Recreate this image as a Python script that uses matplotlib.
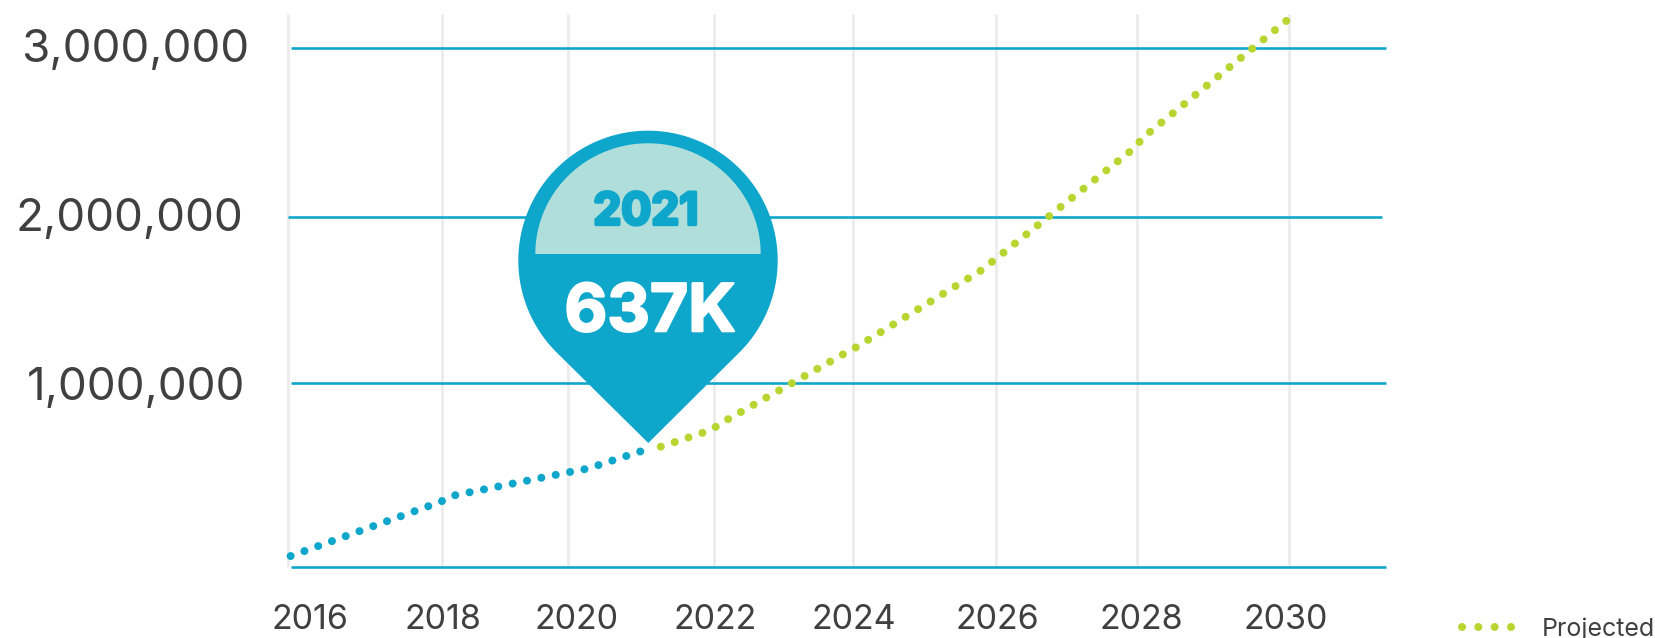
import numpy as np
import matplotlib
matplotlib.use("Agg")
import matplotlib.pyplot as plt
import matplotlib.patheffects as pe
from matplotlib.lines import Line2D
from matplotlib.patches import Polygon
from matplotlib.transforms import ScaledTranslation

plt.rcParams['font.family'] = ['Inter', 'DejaVu Sans']

years = [2016, 2018, 2020, 2022, 2024, 2026, 2028, 2030]
levels = [0, 1000000, 2000000, 3000000]
level_labels = ['', '1,000,000', '2,000,000', '3,000,000']

hist_year = [2016.03, 2017.98, 2018.14, 2020.08, 2020.27, 2021.10]
hist_val = [58000, 354000, 385000, 520000, 534000, 642000]

proj_year = [2021.27, 2021.95, 2022.12, 2023.84, 2024.02, 2025.79, 2025.93, 2027.98, 2028.07, 2029.99]
proj_val = [654000, 744000, 787000, 1169000, 1209000, 1678000, 1726000, 2413000, 2466000, 3170000]

pin_year = '2021'
pin_value = '637K'

BLUE = '#0fa6cb'
PALE = '#b0dfdb'
GREEN = '#b9d532'
GREY = '#ededed'
TEXT = '#404041'

W, H = 1655, 638
px = 0.72  # one pixel in points at dpi 100

# the source chart has uneven spacing, so both axes are piecewise
x_knots = [2016, 2018, 2020, 2022, 2024, 2026, 2028, 2030, 2031.27]
x_px = [288.3, 442.3, 567.5, 714.3, 852.8, 996.4, 1137, 1289.3, 1386]
y_knots = [0, 1000000, 2000000, 3000000, 3200000]
y_px = [0, 183.5, 350, 518.7, 552.7]

fig = plt.figure(figsize=(W / 100, H / 100), dpi=100)
ax = fig.add_axes([288.3 / W, (H - 566.7) / H, (1386 - 288.3) / W, 552.7 / H])

ax.set_xscale('function', functions=(lambda v: np.interp(v, x_knots, x_px),
                                     lambda v: np.interp(v, x_px, x_knots)))
ax.set_yscale('function', functions=(lambda v: np.interp(v, y_knots, y_px),
                                     lambda v: np.interp(v, y_px, y_knots)))
ax.set_xlim(2016, 2031.27)
ax.set_ylim(0, 3200000)

for s in ax.spines.values():
    s.set_visible(False)

ax.vlines(years, 0, 3200000, color=GREY, lw=3 * px, clip_on=False, zorder=1)

# horizontal rules, start and end in axes fraction (the 2M one sits a bit left)
line_from = [0.0025, 0.0025, -0.0005, 0.0025]
line_to = [1, 1, 0.9968, 1]
for lv, a, b in zip(levels, line_from, line_to):
    ax.plot([a, b], [lv, lv], color=BLUE, lw=2.6 * px, clip_on=False, zorder=2,
            transform=ax.get_yaxis_transform(), solid_capstyle='butt')

dots = (0, (0.01, 1.82))
ax.plot(hist_year, hist_val, color=BLUE, lw=8 * px, ls=dots, dash_capstyle='round', clip_on=False, zorder=3)
ax.plot(proj_year, proj_val, color=GREEN, lw=8 * px, ls=dots, dash_capstyle='round', clip_on=False, zorder=3)

ax.set_xticks(years, [str(y) for y in years])
ax.set_yticks(levels, level_labels)
ax.tick_params(axis='both', length=0, colors=TEXT)
ax.tick_params(axis='x', labelsize=24.5, pad=27)
ax.tick_params(axis='y', labelsize=33, pad=31.4)

# tick labels are not centred on their gridlines in the original
x_shift = [22, 1, 9, 1, 1, 1, 4, -4]
y_shift = [(0, 0), (0, 0), (-1, 2), (4, 3)]
for lab, dx in zip(ax.get_xticklabels(), x_shift):
    lab.set_transform(lab.get_transform() + ScaledTranslation(dx / 100, 0, fig.dpi_scale_trans))
for lab, (dx, dy) in zip(ax.get_yticklabels(), y_shift):
    lab.set_transform(lab.get_transform() + ScaledTranslation(dx / 100, dy / 100, fig.dpi_scale_trans))

# map pin, drawn in image pixels on a top layer
top = fig.add_axes([0, 0, 1, 1], zorder=5)
top.set_xlim(0, W)
top.set_ylim(H, 0)
top.axis('off')
top.patch.set_alpha(0)

cx, cy, r = 648, 260.4, 129.7
t = np.radians(np.linspace(45, -225, 200))
outer = np.column_stack([cx + r * np.cos(t), cy + r * np.sin(t)])
outer = np.vstack([outer, [648.3, 443]])
top.add_patch(Polygon(outer, closed=True, fc=BLUE, ec='none'))

t = np.radians(np.linspace(180, 360, 120))
inner = np.column_stack([648 + 112.7 * np.cos(t), 254 + 110.7 * np.sin(t)])
top.add_patch(Polygon(inner, closed=True, fc=PALE, ec='none'))

top.text(645.7, 208, pin_year, color=BLUE, fontsize=32, fontweight='bold', ha='center', va='center_baseline',
         path_effects=[pe.withStroke(linewidth=2.4, foreground=BLUE)])
top.text(650, 306.7, pin_value, color='white', fontsize=47.5, fontweight='bold', ha='center', va='center_baseline',
         path_effects=[pe.withStroke(linewidth=1.6, foreground='white')])

handle = Line2D([0], [0], color=GREEN, lw=8 * px, ls=(0, (0.01, 2.03)), dash_capstyle='round')
fig.legend(handles=[handle], labels=['Projected'], loc='center left',
           bbox_to_anchor=(1462 / W, 1 - 629 / H), frameon=False, fontsize=18,
           labelcolor=TEXT, borderpad=0, borderaxespad=0, handlelength=2.6, handletextpad=0.59)

fig.savefig('out.png', dpi=100)
